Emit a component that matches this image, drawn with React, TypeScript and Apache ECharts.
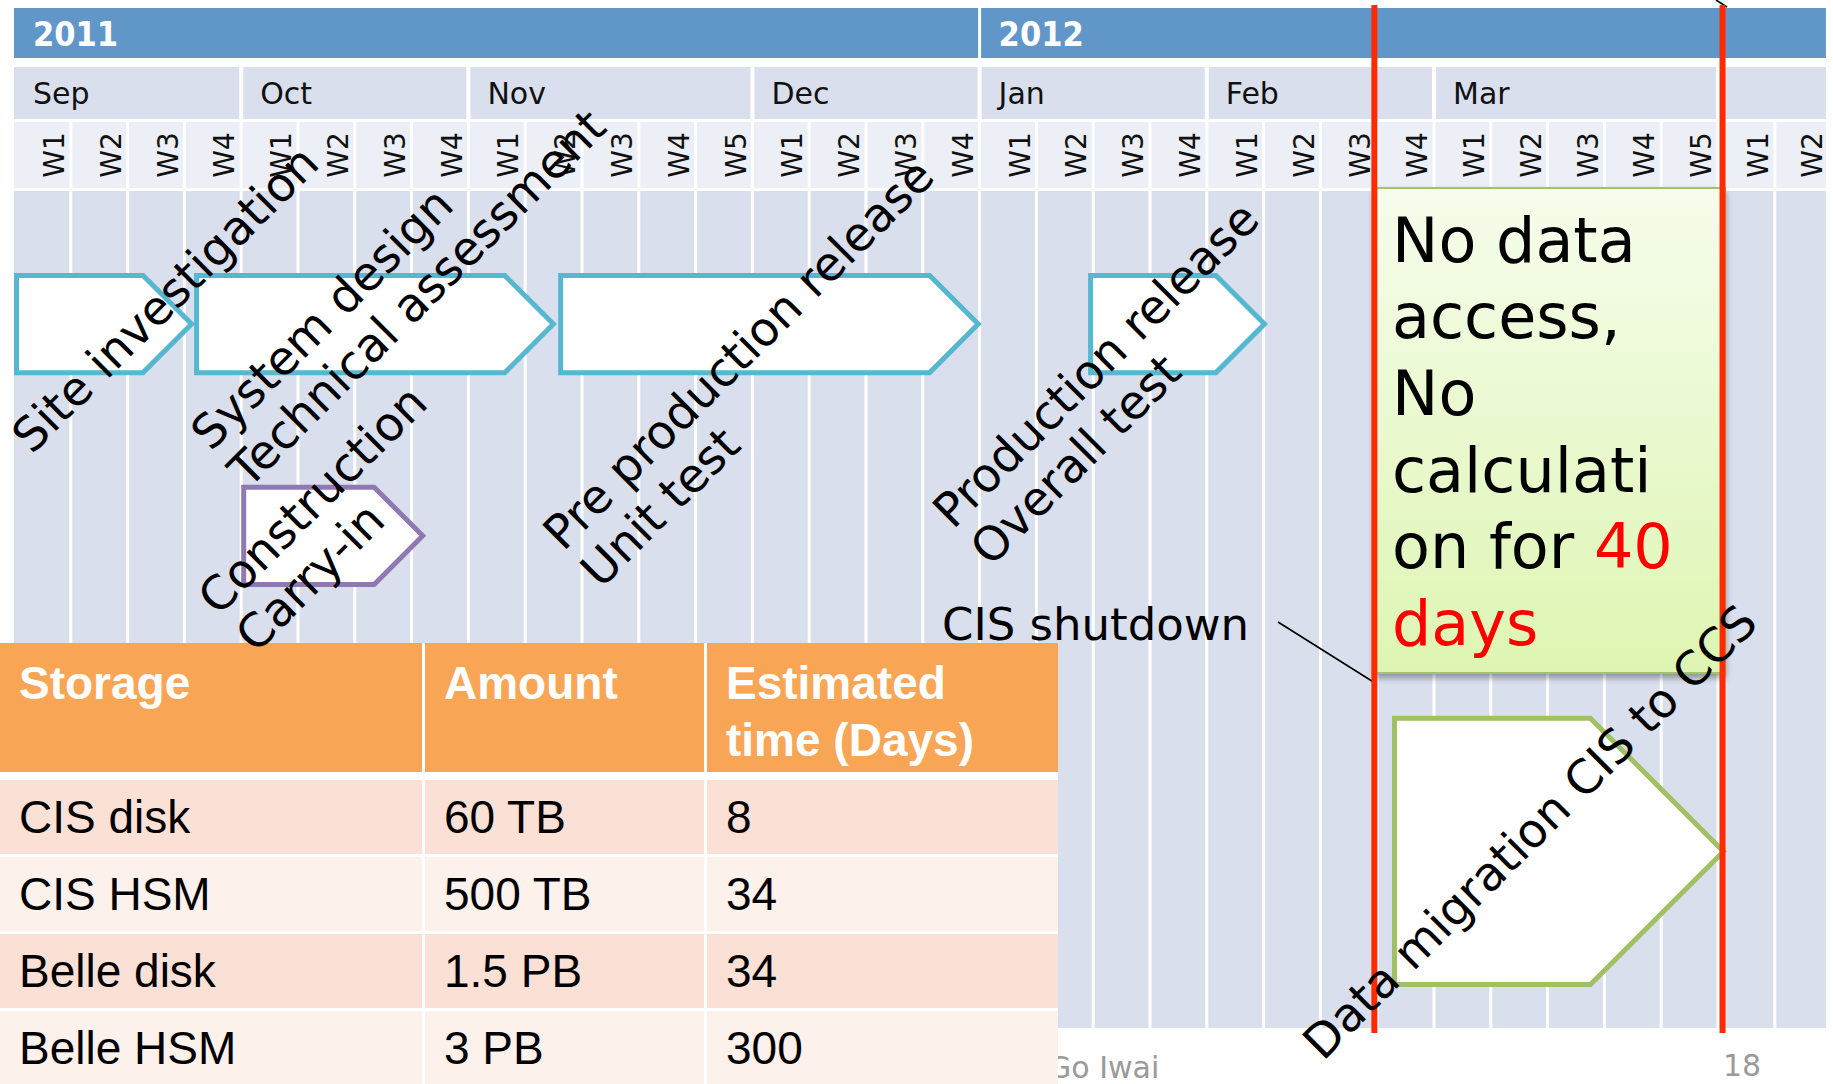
import React, { useEffect, useRef } from "react";
import * as echarts from "echarts";

// ---------------- data ----------------
const yearLabels = ["2011", "2012"];
const yearWeeks = [17, 15];
const monthLabels = ["Sep", "Oct", "Nov", "Dec", "Jan", "Feb", "Mar", ""];
const monthWeeks = [4, 4, 5, 4, 4, 4, 5, 2];
const weekLabels = [
  "W1", "W2", "W3", "W4",
  "W1", "W2", "W3", "W4",
  "W1", "W2", "W3", "W4", "W5",
  "W1", "W2", "W3", "W4",
  "W1", "W2", "W3", "W4",
  "W1", "W2", "W3", "W4",
  "W1", "W2", "W3", "W4", "W5",
  "W1", "W2",
];

const taskLines = [
  ["Site investigation"],
  ["System design", "Technical assessment"],
  ["Construction", "Carry-in"],
  ["Pre production release", "Unit test"],
  ["Production release", "Overall test"],
  ["Data migration CIS to CCS"],
];
const taskStart = [0, 3.17, 4.0, 9.58, 18.91, 24.26];
const taskEnd = [3.17, 9.54, 7.24, 17.02, 22.06, 30.14];
const taskTop = [9.8, 9.8, 35.1, 9.8, 9.8, 62.7];
const taskBottom = [22.0, 22.0, 47.3, 22.0, 22.0, 95.1];
const taskKind = [0, 0, 1, 0, 0, 2];

const markerWeeks = [23.95, 30.08];
const markerLabel = "CIS shutdown";
const calloutText = "No data\naccess,\nNo\ncalculati\non for {r|40}\n{r|days}";

const tableHeader = ["Storage", "Amount", "Estimated\ntime (Days)"];
const storageNames = ["CIS disk", "CIS HSM", "Belle disk", "Belle HSM"];
const storageAmounts = ["60 TB", "500 TB", "1.5 PB", "3 PB"];
const storageDays = ["8", "34", "34", "300"];

const footerAuthor = "Go Iwai";
const footerPage = "18";

// ---------------- layout / style ----------------
const W = 1833;
const H = 1084;
const COL_W = 56.8;
const X_MAX = 31.9;
const GRID_LEFT = 14;
const GRID_TOP = 191;
const GRID_BOTTOM = 1028;
const YEAR_Y = [8, 58];
const MONTH_Y = [67, 119];
const WEEK_Y = [122, 188];
const SANS = '"DejaVu Sans", "Noto Sans", sans-serif';
const NARROW = '"Liberation Sans Narrow", "DejaVu Sans Condensed", "Liberation Sans", sans-serif';
const TABLE_FONT = '"Liberation Sans", Arial, sans-serif';
const YEAR_BLUE = "#6196c9";
const MONTH_BG = "#d9dfed";
const WEEK_BG = "#eceff6";
const BODY_BG = "#d9dfec";
const TASK_COLORS = ["#56b7d0", "#9079b2", "#a0c064"];
const RED = "#ff2a00";
const LABEL_SIZE = 47;
const LABEL_STEP = 37.5;
const ROT = Math.PI / 4;
const UP = 0.35 * LABEL_SIZE * Math.SQRT1_2;
// first-line baseline start relative to task's (start, bottom) corner
const labelOffsets = [
  [18, 80],
  [17, 77],
  [-23, 30],
  [5, 177],
  [-135, 155],
  [-69, 75],
];

function cumulative(spans: number[]) {
  const out: number[][] = [];
  let s = 0;
  for (const n of spans) {
    out.push([s, s + n]);
    s += n;
  }
  return out;
}

function textStyle(extra: any) {
  const st: any = { ...extra };
  if (st.align) st.textAlign = st.align;
  if (st.verticalAlign) st.textVerticalAlign = st.verticalAlign;
  return st;
}

function buildOption() {
  const clampX = (api: any, v: number) => api.coord([Math.min(v, X_MAX), 0])[0];

  const bodySeries = {
    type: "custom",
    z: 1,
    silent: true,
    clip: false,
    data: weekLabels.map((_, i) => [i, i + 1]),
    renderItem: (params: any, api: any) => {
      const i = params.dataIndex;
      const x0 = clampX(api, api.value(0));
      const x1 = clampX(api, api.value(1));
      const cs = params.coordSys;
      const l = i === 0 ? x0 : x0 + 1.5;
      const r = api.value(1) > X_MAX ? x1 : x1 - 1.5;
      return {
        type: "group",
        children: [
          { type: "rect", shape: { x: l, y: cs.y, width: r - l, height: cs.height }, style: { fill: BODY_BG } },
          { type: "rect", shape: { x: l, y: WEEK_Y[0], width: r - l, height: WEEK_Y[1] - WEEK_Y[0] }, style: { fill: WEEK_BG } },
          {
            type: "text",
            x: (x0 + x1) / 2 + 12,
            y: (WEEK_Y[0] + WEEK_Y[1]) / 2,
            rotation: Math.PI / 2,
            style: textStyle({ text: weekLabels[i], fill: "#111", fontSize: 28, fontFamily: SANS, align: "center", verticalAlign: "middle" }),
          },
        ],
      };
    },
  };

  const yearSeries = {
    type: "custom",
    z: 1,
    silent: true,
    clip: false,
    data: cumulative(yearWeeks),
    renderItem: (params: any, api: any) => {
      const i = params.dataIndex;
      const x0 = clampX(api, api.value(0));
      const x1 = clampX(api, api.value(1));
      const l = i === 0 ? x0 : x0 + 1.5;
      const r = api.value(1) > X_MAX ? x1 : x1 - 1.5;
      return {
        type: "group",
        children: [
          { type: "rect", shape: { x: l, y: YEAR_Y[0], width: r - l, height: YEAR_Y[1] - YEAR_Y[0] }, style: { fill: YEAR_BLUE } },
          {
            type: "text",
            x: x0 + 19,
            y: (YEAR_Y[0] + YEAR_Y[1]) / 2 + 1,
            style: textStyle({ text: yearLabels[i], fill: "#fff", fontSize: 34, fontWeight: "bold", fontFamily: NARROW, align: "left", verticalAlign: "middle" }),
          },
        ],
      };
    },
  };

  const monthSeries = {
    type: "custom",
    z: 1,
    silent: true,
    clip: false,
    data: cumulative(monthWeeks),
    renderItem: (params: any, api: any) => {
      const i = params.dataIndex;
      const x0 = clampX(api, api.value(0));
      const x1 = clampX(api, api.value(1));
      const l = i === 0 ? x0 : x0 + 2;
      const r = api.value(1) > X_MAX ? x1 : x1 - 2;
      return {
        type: "group",
        children: [
          { type: "rect", shape: { x: l, y: MONTH_Y[0], width: r - l, height: MONTH_Y[1] - MONTH_Y[0] }, style: { fill: MONTH_BG } },
          {
            type: "text",
            x: x0 + 19,
            y: (MONTH_Y[0] + MONTH_Y[1]) / 2,
            style: textStyle({ text: monthLabels[i], fill: "#111", fontSize: 30, fontFamily: SANS, align: "left", verticalAlign: "middle" }),
          },
        ],
      };
    },
  };

  const taskSeries = {
    type: "custom",
    z: 3,
    silent: true,
    clip: false,
    data: taskStart.map((s, i) => [s, taskEnd[i], taskTop[i], taskBottom[i]]),
    renderItem: (params: any, api: any) => {
      const i = params.dataIndex;
      const p0 = api.coord([api.value(0), api.value(2)]);
      const p1 = api.coord([api.value(1), api.value(3)]);
      const x0 = p0[0] + 2.5, y0 = p0[1] + 2.5, x1 = p1[0] - 2.5, y1 = p1[1] - 2.5;
      const tip = (y1 - y0) / 2;
      return {
        type: "polygon",
        shape: { points: [[x0, y0], [x1 - tip, y0], [x1, (y0 + y1) / 2], [x1 - tip, y1], [x0, y1]] },
        style: { fill: "#ffffff", stroke: TASK_COLORS[taskKind[i]], lineWidth: 5, lineJoin: "miter" },
      };
    },
  };

  const markerSeries = {
    type: "custom",
    z: 6,
    silent: true,
    clip: false,
    data: markerWeeks.map((w) => [w, 0]),
    renderItem: (params: any, api: any) => {
      const x = api.coord([api.value(0), 0])[0];
      return { type: "line", shape: { x1: x, y1: 5, x2: x, y2: 1033 }, style: { stroke: RED, lineWidth: 6 } };
    },
  };

  const labelSeries = {
    type: "custom",
    z: 10,
    silent: true,
    clip: false,
    data: taskStart.map((s, i) => [s, taskBottom[i]]),
    renderItem: (params: any, api: any) => {
      const i = params.dataIndex;
      const base = api.coord([api.value(0), api.value(1)]);
      const bx = base[0] + labelOffsets[i][0];
      const by = base[1] + labelOffsets[i][1];
      return {
        type: "group",
        children: taskLines[i].map((t, k) => ({
          type: "text",
          x: bx + k * LABEL_STEP - UP,
          y: by + k * LABEL_STEP - UP,
          rotation: ROT,
          style: textStyle({ text: t, fill: "#000", fontSize: LABEL_SIZE, fontFamily: SANS, align: "left", verticalAlign: "middle" }),
        })),
      };
    },
  };

  // table + annotations
  const colX = [0, 425, 707];
  const colW = [422, 279, 351];
  const headerY = 643;
  const headerH = 129;
  const rowY0 = 780;
  const rowPitch = 77;
  const rowH = 74;
  const rowFills = ["#fbe1d5", "#fdf1eb"];
  const graphics: any[] = [];

  graphics.push({
    type: "text", x: 1048, y: 1067, z: 2,
    style: textStyle({ text: footerAuthor, fill: "#9a9a9a", fontSize: 30, fontFamily: SANS, align: "left", verticalAlign: "middle" }),
  });
  graphics.push({
    type: "text", x: 1723, y: 1065, z: 2,
    style: textStyle({ text: footerPage, fill: "#9a9a9a", fontSize: 30, fontFamily: SANS, align: "left", verticalAlign: "middle" }),
  });

  graphics.push({ type: "rect", z: 3.9, shape: { x: 0, y: headerY, width: colX[2] + colW[2], height: H - headerY }, style: { fill: "#ffffff" } });
  tableHeader.forEach((h, c) => {
    graphics.push({ type: "rect", z: 4, shape: { x: colX[c], y: headerY, width: colW[c], height: headerH }, style: { fill: "#f8a656" } });
    h.split("\n").forEach((line, k) => {
      graphics.push({
        type: "text", z: 4.5, x: colX[c] + 19, y: 683 + k * 57,
        style: textStyle({ text: line, fill: "#fff", fontSize: 46, fontWeight: "bold", fontFamily: TABLE_FONT, align: "left", verticalAlign: "middle" }),
      });
    });
  });
  const rows = storageNames.map((n, r) => [n, storageAmounts[r], storageDays[r]]);
  rows.forEach((row, r) => {
    const y = rowY0 + r * rowPitch;
    const h = r === rows.length - 1 ? H - y : rowH;
    row.forEach((cell, c) => {
      graphics.push({ type: "rect", z: 4, shape: { x: colX[c], y, width: colW[c], height: h }, style: { fill: rowFills[r % 2] } });
      graphics.push({
        type: "text", z: 4.5, x: colX[c] + 19, y: y + 37,
        style: textStyle({ text: cell, fill: "#000", fontSize: 46, fontFamily: TABLE_FONT, align: "left", verticalAlign: "middle" }),
      });
    });
  });

  // callout box
  graphics.push({
    type: "rect", z: 5,
    shape: { x: 1375, y: 188, width: 350, height: 485 },
    style: {
      fill: new echarts.graphic.LinearGradient(0, 0, 0, 1, [
        { offset: 0, color: "#f6fdec" },
        { offset: 1, color: "#def5b2" },
      ]),
      stroke: "#a3c36a",
      lineWidth: 2,
      shadowBlur: 6,
      shadowOffsetY: 4,
      shadowColor: "rgba(0,0,0,0.35)",
    },
  });
  graphics.push({
    type: "text", z: 5.5, x: 1392, y: 202,
    style: {
      text: calloutText,
      fill: "#000",
      fontSize: 62,
      fontFamily: SANS,
      lineHeight: 76.6,
      align: "left",
      verticalAlign: "top",
      textAlign: "left",
      textVerticalAlign: "top",
      rich: { r: { fill: "#ff0000", fontSize: 62, fontFamily: SANS, lineHeight: 76.6 } },
    },
  });

  // CIS shutdown annotation
  graphics.push({
    type: "text", z: 5.5, x: 942, y: 624,
    style: textStyle({ text: markerLabel, fill: "#000", fontSize: 45, fontFamily: SANS, align: "left", verticalAlign: "middle" }),
  });
  graphics.push({ type: "line", z: 5.5, shape: { x1: 1278, y1: 622, x2: 1375, y2: 683 }, style: { stroke: "#000", lineWidth: 1.6 } });
  graphics.push({ type: "line", z: 5.5, shape: { x1: 1716, y1: 0, x2: 1727, y2: 7 }, style: { stroke: "#000", lineWidth: 1.6 } });

  return {
    animation: false,
    backgroundColor: "#ffffff",
    grid: { left: GRID_LEFT, top: GRID_TOP, width: X_MAX * COL_W, height: GRID_BOTTOM - GRID_TOP },
    xAxis: { type: "value", min: 0, max: X_MAX, show: false },
    yAxis: { type: "value", min: 0, max: 100, inverse: true, show: false },
    series: [bodySeries, yearSeries, monthSeries, taskSeries, markerSeries, labelSeries],
    graphic: { elements: graphics },
  };
}

export default function App() {
  const ref = useRef<HTMLDivElement>(null);
  useEffect(() => {
    if (!ref.current) return;
    const chart = echarts.init(ref.current, undefined, { renderer: "svg" });
    chart.setOption(buildOption() as any);
    return () => chart.dispose();
  }, []);
  return (
    <div
      ref={ref}
      style={{ position: "fixed", left: 0, top: 0, width: W, height: H, background: "#fff" }}
    />
  );
}
